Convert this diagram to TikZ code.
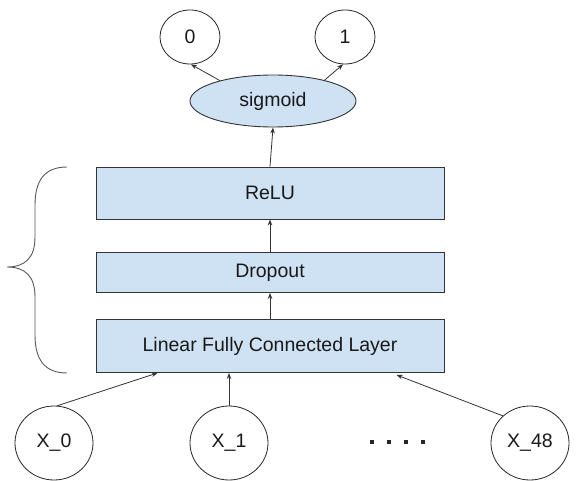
\documentclass[tikz,border=0pt]{standalone}
\usepackage{fontspec}
\setmainfont{Liberation Sans}
\usetikzlibrary{shapes.geometric,arrows.meta,calc}
\definecolor{boxfill}{HTML}{CFE2F3}
\definecolor{edge}{HTML}{333333}
\begin{document}
\begin{tikzpicture}[x=1pt,y=-1pt,
  every node/.style={font=\fontsize{19.5}{22}\selectfont, text=black!90, inner sep=0pt},
  layer/.style={draw=edge, fill=boxfill, line width=0.9pt, rectangle, minimum width=348pt},
  sigbox/.style={draw=edge, fill=boxfill, line width=0.9pt, ellipse, minimum width=166pt, minimum height=52pt},
  outc/.style={draw=black!85, line width=0.8pt, ellipse, minimum width=60pt, minimum height=54pt},
  inc/.style={draw=black!85, line width=0.8pt, ellipse, minimum width=78pt, minimum height=74pt},
  arr/.style={draw=black!80, line width=0.8pt, -{Stealth[length=6pt,width=4.5pt]}}]
\useasboundingbox (0,0) rectangle (588,481);

% layers
\node[layer, minimum height=52pt] (relu) at (270,193) {ReLU};
\node[layer, minimum height=40pt] (drop) at (270,272.5) {Dropout};
\node[layer, minimum height=53pt] (lin) at (270,346) {Linear Fully Connected Layer};

% output
\node[sigbox] (sig) at (273,101) {sigmoid};
\node[outc] (c0) at (190,37) {0};
\node[outc] (c1) at (345,37) {1};

% inputs
\node[inc] (x0) at (54,443) {X\_0};
\node[inc] (x1) at (229,443) {X\_1};
\node[inc] (x48) at (530,443) {X\_48};

% ellipsis
\foreach \dx in {372,389,406,423}
  \fill[black!85] (\dx-2,440) rectangle (\dx+2,444);

% connectors
\draw[arr] (sig.159) -- (c0.272);
\draw[arr] (sig.22) -- (c1.266);
\draw[arr] (relu.north) -- (sig.south);
\draw[arr] (drop.north) -- (relu.south);
\draw[arr] (lin.north) -- (drop.south);
\draw[arr] (x0.85) -- ($(lin.south west)+(62,0)$);
\draw[arr] (x1.north) -- (x1.north |- lin.south);
\draw[arr] (x48.135) -- ($(lin.south west)+(301,2)$);

% brace over the three layers
\draw[black!65, line width=0.9pt]
  (67,167) .. controls (45,167) and (35,180) .. (35,205)
  -- (35,237) .. controls (35,258) and (25,267) .. (7,267)
  .. controls (25,267) and (35,276) .. (35,297)
  -- (35,335) .. controls (35,360) and (45,373) .. (67,373);
\end{tikzpicture}
\end{document}
